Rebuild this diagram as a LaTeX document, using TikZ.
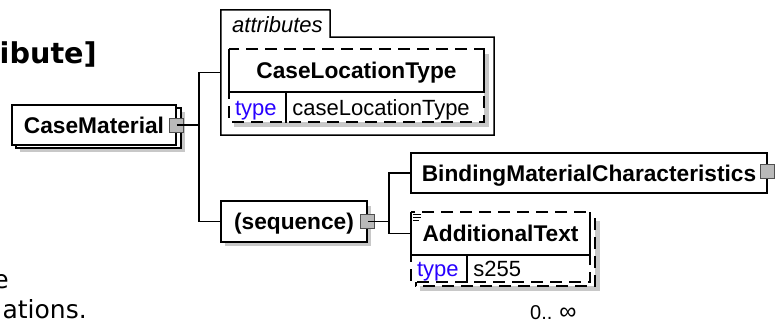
\documentclass[tikz,border=0pt]{standalone}
\usepackage{fontspec}
\setmainfont{Liberation Sans}
\newfontfamily\verdfam{DejaVu Sans}
\newcommand\nmfont{\fontsize{22.7}{27}\selectfont\bfseries}
\newcommand\tyfont{\fontsize{22}{26}\selectfont}
\newcommand\itfnt{\fontsize{22}{26}\selectfont\itshape}
\definecolor{typeblue}{RGB}{40,0,255}
\definecolor{shadowgray}{RGB}{200,200,200}
\definecolor{sqgray}{RGB}{185,185,185}
\definecolor{sqborder}{RGB}{80,80,80}
\begin{document}
\begin{tikzpicture}[x=1pt,y=-1pt,
  lw/.style={line width=1.5pt},
  dsh/.style={dash pattern=on 12pt off 7pt},
  box/.style={draw=black,line width=1.5pt,fill=white,inner sep=0pt,font=\nmfont,text height=16pt,text depth=0pt},
  namecell/.style={inner sep=0pt,font=\nmfont,text height=16pt,text depth=0pt},
  typecell/.style={inner xsep=6pt,inner ysep=0pt,align=left,text height=16pt,text depth=0pt,font=\tyfont,anchor=north west},
  sq/.style={draw=sqborder,fill=sqgray,line width=1pt,minimum size=14pt,inner sep=0pt},
  shad/.style={fill=shadowgray}]
\useasboundingbox (0,0) rectangle (777,324);
\fill[white] (0,0) rectangle (777,324);

% clipped side texts
\begin{scope}
\clip (0,0) rectangle (777,324);
\node[font=\verdfam\bfseries\fontsize{28.7}{30}\selectfont,anchor=base east,inner sep=0pt] (lt1) at (97,63) {ibute]};
\node[font=\verdfam\fontsize{25}{30}\selectfont,anchor=base east,inner sep=0pt] (lt2) at (9,288) {e};
\node[font=\verdfam\fontsize{25}{30}\selectfont,anchor=base east,inner sep=0pt] (lt3) at (87,318) {ations.};
\end{scope}

% CaseMaterial (stacked)
\fill[shad] (20,112) rectangle (185,152);
\filldraw[lw,fill=white] (16,108) rectangle (181,148);
\node[box,minimum width=164pt,minimum height=40pt] (cm) at (94,125) {CaseMaterial};

% attributes container
\node[inner sep=0pt,minimum width=273pt,minimum height=125pt] (attr) at (357.5,72.5) {};
\draw[lw] (attr.north west) -- (330,10) -- (330,37) -- (494,37) -- (attr.south east) -- (attr.south west) -- cycle;
\node[font=\itfnt,anchor=base west,inner sep=0pt] (attrlbl) at (232,32) {attributes};

% CaseLocationType attribute
\fill[shad] (234,54) rectangle (489,127);
\filldraw[lw,dsh,fill=white] (229,49) rectangle (484,122);
\node[namecell,minimum width=255pt,minimum height=43pt] (clname) at (356.5,70.5) {CaseLocationType};
\draw[lw] (clname.north west) -- (clname.south west) -- (clname.south east) -- (clname.north east);
\node[typecell,text width=45pt,minimum height=30pt,text=typeblue] (cltype) at (clname.south west) {type};
\node[typecell,text width=186pt,minimum height=30pt] (clval) at (cltype.north east) {caseLocationType};
\draw[lw] (cltype.north east) -- (cltype.south east);

% sequence
\fill[shad] (225,205.5) rectangle (371,246);
\node[box,minimum width=146pt,minimum height=41pt] (seq) at (294,221.5) {(sequence)};

% BindingMaterialCharacteristics
\node[box,minimum width=356pt,minimum height=40pt] (bind) at (589,173) {BindingMaterialCharacteristics};

% AdditionalText (stacked, optional)
\fill[shad] (420,221) rectangle (600,291);
\filldraw[lw,dsh,fill=white] (416,217) rectangle (595,286);
\filldraw[lw,dsh,fill=white] (411,212) rectangle (590,282);
\node[namecell,minimum width=179pt,minimum height=43pt] (atname) at (500.5,233.5) {AdditionalText};
\draw[lw] (atname.north west) -- (atname.south west) -- (atname.south east) -- (atname.north east);
\node[typecell,text width=44pt,minimum height=27pt,text=typeblue] (attype) at (atname.south west) {type};
\node[typecell,text width=111pt,minimum height=27pt] (atval) at (attype.north east) {s255};
\draw[lw] (attype.north east) -- (attype.south east);
\draw[line width=0.9pt] (413,214.5) -- (421,214.5) (413,217.5) -- (421,217.5) (413,220.5) -- (419,220.5);
\node[font=\fontsize{20}{22}\selectfont,anchor=base west,inner sep=0pt] (mult) at (530,319.5) {0..\hspace{7pt}{\fontsize{24}{22}\selectfont ∞}};

% connectors
\coordinate (j1) at (199,125);
\coordinate (j2) at (389,221.5);
\node[sq] (cmsq) at (cm.east) {};
\node[sq] (seqsq) at (seq.east) {};
\node[sq] (bindsq) at ([yshift=2pt]bind.east) {};
\draw[lw] (cmsq.center) -- (j1);
\draw[lw] (attr.west) -- (attr.west -| j1) -- (seq.west -| j1) -- (seq.west);
\draw[lw] (seqsq.center) -- (j2);
\draw[lw] (bind.west) -- (bind.west -| j2) -- (atname.west -| j2) -- (atname.west);
\end{tikzpicture}
\end{document}
